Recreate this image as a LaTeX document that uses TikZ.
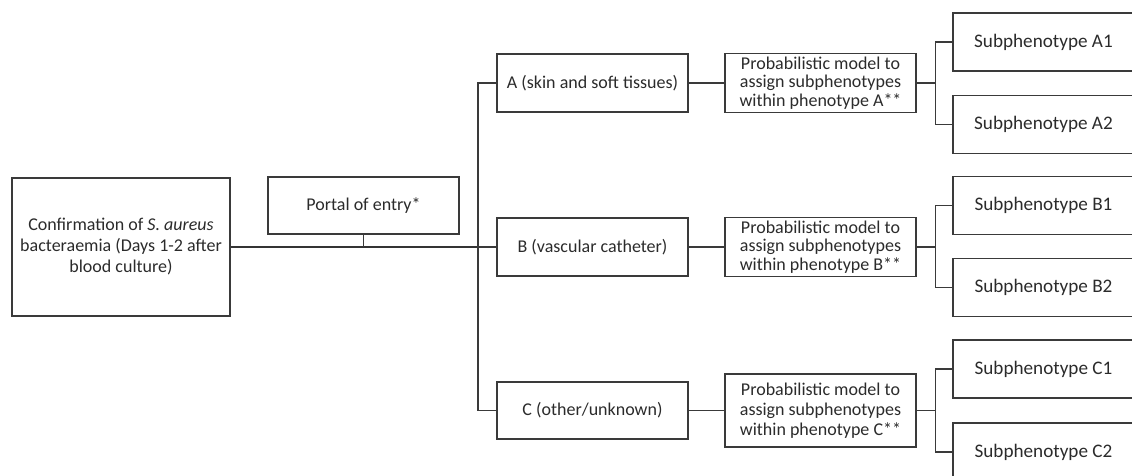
\documentclass[tikz,border=0pt]{standalone}
\usepackage{fontspec}
\setmainfont{Carlito}
\usepackage{xcolor}
\usepackage{tikz}
\usetikzlibrary{positioning}
\definecolor{ink}{HTML}{2B2B2B}
\definecolor{rule}{HTML}{3A3A3A}
\tikzset{
	box/.style={draw=rule, line width=0.7pt, align=center, inner sep=2pt,
		text=ink, font=\fontsize{10.8}{11}\selectfont},
	phen/.style={box, minimum width=114.6pt, minimum height=34.8pt},
	model/.style={box, minimum width=114.6pt, minimum height=34.8pt},
	sub/.style={box, minimum width=108.6pt, minimum height=34.8pt,
		font=\fontsize{11.5}{12}\selectfont},
	link/.style={draw=rule, line width=0.7pt},
	trunk/.style={draw=rule!90!black, line width=1.3pt},
}

\begin{document}
\begin{tikzpicture}[x=0.6pt, y=-0.6pt]
	\clip (0,0) rectangle (1132,475);
	% left part
	\node[box, minimum width=130.8pt, minimum height=82.8pt, font=\fontsize{10.8}{12.6}\selectfont] (conf) at (121,247) {Confirmation of \textit{S. aureus}\\bacteraemia (Days 1-2 after\\blood culture)};
	\node[box, minimum width=114.6pt, minimum height=34.2pt] (portal) at (363.5,205.5) {Portal of entry*};
	\coordinate (bus) at (478,247);
	% phenotypes
	\node[phen] (phA) at (592.5,83) {A (skin and soft tissues)};
	\node[phen] (phB) at (592.5,247) {B (vascular catheter)};
	\node[phen, minimum height=34.2pt] (phC) at (592.5,410.5) {C (other/unknown)};
	\node[model] (mdA) at (820.5,83) {Probabilistic model to\\assign subphenotypes\\within phenotype A**};
	\node[model] (mdB) at (820.5,247) {Probabilistic model to\\assign subphenotypes\\within phenotype B**};
	\node[model, minimum height=43.8pt, font=\fontsize{10.8}{12}\selectfont] (mdC) at (820.5,410.5) {Probabilistic model to\\assign subphenotypes\\within phenotype C**};
	% subphenotypes
	\node[sub] (sbA1) at (1043.5,42) {Subphenotype A1};
	\node[sub] (sbA2) at (1043.5,124.5) {Subphenotype A2};
	\node[sub] (sbB1) at (1043.5,205.5) {Subphenotype B1};
	\node[sub] (sbB2) at (1043.5,287.5) {Subphenotype B2};
	\node[sub] (sbC1) at (1043.5,369) {Subphenotype C1};
	\node[sub] (sbC2) at (1043.5,452) {Subphenotype C2};
	% connectors
	\draw[trunk] (conf.east) -- (bus);
	\draw[link] (portal.south) -- (portal.south |- bus);
	\draw[link] (phA.west) -- (phA.west -| bus) |- (phC.west);
	\draw[link] (bus) -- (phB.west);
	\foreach \p in {A, B, C} {
		\draw[link] (ph\p.east) -- (md\p.west);
		\draw[link] (md\p.east) -- ++(19,0) |- (sb\p1.west);
		\draw[link] (md\p.east) -- ++(19,0) |- (sb\p2.west);
	}
\end{tikzpicture}
\end{document}
